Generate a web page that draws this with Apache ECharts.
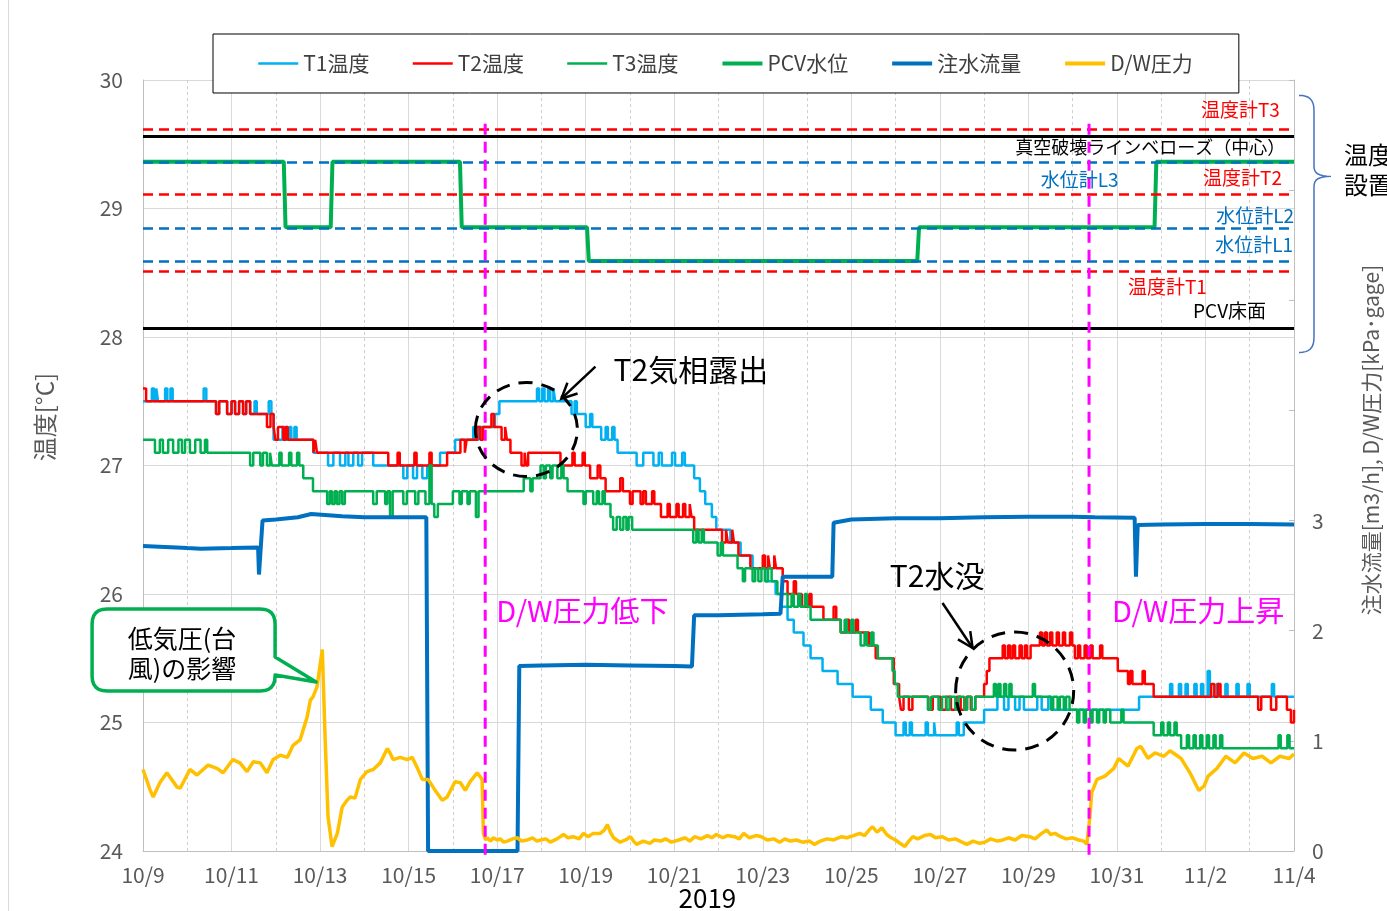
<!DOCTYPE html>
<html>
<head>
<meta charset="utf-8">
<title>PCV temperature</title>
<script src="https://cdn.jsdelivr.net/npm/echarts@6/dist/echarts.min.js"></script>
<style>
html,body{margin:0;padding:0;background:#ffffff;}
#chart{width:1387px;height:911px;}
</style>
</head>
<body>
<div id="chart"></div>
<script>
// ===== data (day offset from 10/9 0:00, value) =====
const xTickLabels = ['10/9','10/11','10/13','10/15','10/17','10/19','10/21','10/23','10/25','10/27','10/29','10/31','11/2','11/4'];

const t1Temp = [[0,27.5],[0.2,27.6],[0.25,27.5],[0.3,27.6],[0.34,27.5],[0.5,27.6],[0.55,27.5],[0.62,27.6],[0.67,27.5],[1.37,27.6],[1.43,27.5],
[1.65,27.4],[1.72,27.5],[1.9,27.4],[2.0,27.5],[2.08,27.4],[2.17,27.5],[2.26,27.4],[2.33,27.5],
[2.42,27.4],[2.52,27.5],[2.57,27.4],[2.84,27.5],[2.9,27.4],
[2.95,27.2],[3.15,27.3],[3.2,27.2],[3.3,27.3],[3.35,27.2],[3.42,27.3],[3.47,27.2],
[3.85,27.1],[4.18,27.0],[4.3,27.1],[4.45,27.0],[4.57,27.1],[4.64,27.0],[4.75,27.1],[4.86,27.0],[4.95,27.1],
[5.2,27.0],[5.88,26.9],[5.97,27.0],[6.1,26.9],[6.19,27.0],[6.31,26.9],[6.42,27.0],
[6.71,27.1],[7.05,27.2],[7.46,27.3],[7.52,27.2],[7.58,27.3],
[7.95,27.4],[8.05,27.5],
[8.9,27.6],[8.95,27.5],[9.02,27.6],[9.07,27.5],[9.15,27.6],[9.2,27.5],[9.27,27.6],[9.31,27.5],
[9.68,27.4],[9.75,27.5],[9.8,27.4],
[10.0,27.3],[10.1,27.4],[10.15,27.3],
[10.35,27.2],[10.45,27.3],[10.5,27.2],[10.6,27.3],[10.65,27.2],
[10.72,27.1],[11.15,27.0],[11.3,27.1],
[11.53,27.0],[11.65,27.1],[11.72,27.0],[11.95,27.1],[12.02,27.0],[12.18,27.1],[12.24,27.0],
[12.45,26.9],[12.58,26.8],[12.7,26.7],[12.85,26.6],[12.95,26.5],
[13.27,26.4],[13.5,26.3],[13.77,26.2],[14.06,26.1],[14.29,26.0],
[14.42,25.9],[14.56,25.8],[14.7,25.7],[14.92,25.6],[15.08,25.5],[15.35,25.4],[15.69,25.3],[16.03,25.2],[16.44,25.1],[16.71,25.0],
[17.0,24.9],[17.18,25.0],[17.23,24.9],[17.32,25.0],[17.37,24.9],[17.68,25.0],[17.73,24.9],[17.87,25.0],[17.9,24.9],[18.38,25.0],[18.43,24.9],
[18.54,25.0],[19.0,25.1],[19.3,25.2],[19.45,25.1],[19.55,25.2],[19.7,25.1],[19.8,25.2],[19.9,25.1],[20.2,25.2],[20.3,25.1],[20.45,25.2],[20.52,25.1],
[22.5,25.2],[23.2,25.3],[23.25,25.2],[23.4,25.3],[23.45,25.2],[23.55,25.3],[23.6,25.2],[23.75,25.3],[23.8,25.2],[23.9,25.3],[23.95,25.2],[24.05,25.4],[24.1,25.2],[24.25,25.3],[24.3,25.2],[24.45,25.3],[24.5,25.2],[24.7,25.3],[24.75,25.2],[24.95,25.3],[25.0,25.2],[25.5,25.3],[25.55,25.2],[26.0,25.2]];

const t2Temp = [[0,27.6],[0.07,27.5],
[1.65,27.4],[1.72,27.5],[1.9,27.4],[2.0,27.5],[2.08,27.4],[2.17,27.5],[2.26,27.4],[2.33,27.5],
[2.42,27.4],[2.8,27.3],[2.88,27.4],
[2.95,27.3],[2.99,27.2],[3.05,27.3],[3.17,27.2],[3.22,27.3],[3.27,27.2],
[3.85,27.1],[3.89,27.2],[3.93,27.1],
[5.54,27.0],[5.75,27.1],[5.8,27.0],[6.13,27.1],[6.18,27.0],[6.47,27.1],[6.52,27.0],[6.87,27.1],
[7.17,27.2],[7.27,27.1],[7.31,27.2],
[7.55,27.3],[7.62,27.2],[7.68,27.3],
[7.87,27.4],[7.93,27.3],
[8.1,27.2],[8.18,27.3],[8.22,27.2],
[8.3,27.1],[8.55,27.0],[8.62,27.1],[8.65,27.0],[8.7,27.1],
[9.43,27.0],[9.7,27.1],[9.75,27.0],[9.93,27.1],[9.98,27.0],
[10.1,26.9],[10.27,27.0],[10.33,26.9],
[10.45,26.8],[10.78,26.9],[10.84,26.8],[11.0,26.7],[11.06,26.8],[11.24,26.7],[11.3,26.8],[11.36,26.7],
[11.5,26.8],[11.55,26.7],
[11.7,26.6],[11.85,26.7],[11.9,26.6],[12.05,26.7],[12.1,26.6],[12.2,26.7],[12.25,26.6],[12.35,26.7],[12.39,26.6],
[12.45,26.5],
[13.08,26.4],[13.17,26.5],[13.21,26.4],[13.31,26.5],[13.35,26.4],
[13.45,26.3],
[13.72,26.2],[14.0,26.3],[14.05,26.2],[14.12,26.3],[14.16,26.2],[14.26,26.3],[14.3,26.2],
[14.45,26.1],
[14.56,26.0],[14.7,26.1],[14.75,26.0],
[14.88,25.9],[15.05,26.0],[15.1,25.9],
[15.37,25.8],[15.6,25.9],[15.66,25.8],
[15.76,25.7],[15.9,25.8],[15.95,25.7],[16.1,25.8],[16.15,25.7],
[16.4,25.6],[16.55,25.5],
[16.96,25.3],[17.08,25.2],[17.12,25.1],[17.18,25.2],[17.3,25.1],[17.38,25.2],
[17.74,25.1],[17.84,25.2],[18.02,25.1],[18.14,25.2],[18.25,25.1],[18.38,25.2],[18.47,25.1],[18.6,25.2],[18.7,25.1],[18.8,25.2],
[19.0,25.3],[19.06,25.4],[19.12,25.5],
[19.42,25.6],[19.47,25.5],[19.54,25.6],[19.59,25.5],[19.65,25.6],[19.7,25.5],[19.8,25.6],[19.85,25.5],[19.92,25.6],[19.97,25.5],
[20.05,25.6],[20.26,25.7],[20.31,25.6],[20.37,25.7],[20.42,25.6],[20.49,25.7],[20.54,25.6],[20.64,25.7],[20.69,25.6],[20.78,25.7],[20.83,25.6],[20.94,25.7],[20.99,25.6],
[21.05,25.5],[21.12,25.6],[21.17,25.5],[21.27,25.6],[21.32,25.5],[21.4,25.6],[21.45,25.5],[21.62,25.6],[21.67,25.5],
[22.02,25.4],[22.25,25.3],[22.3,25.4],[22.35,25.3],[22.58,25.4],[22.63,25.3],
[22.83,25.2],[24.13,25.3],[24.2,25.2],[24.28,25.3],[24.34,25.2],
[25.19,25.1],[25.26,25.2],[25.48,25.1],[25.6,25.2],[25.84,25.1],[25.93,25.0],[26.0,25.1]];

const t3Temp = [[0,27.2],[0.27,27.1],[0.38,27.2],[0.45,27.1],[0.57,27.2],[0.68,27.1],[0.8,27.2],[0.88,27.1],[0.95,27.2],[1.06,27.1],[1.18,27.2],[1.3,27.1],[1.4,27.2],[1.45,27.1],
[2.42,27.0],[2.49,27.1],[2.65,27.0],[2.71,27.1],[2.8,27.0],[2.87,27.1],[2.91,27.0],
[3.08,27.1],[3.13,27.0],[3.3,27.1],[3.35,27.0],[3.48,27.1],[3.53,27.0],
[3.62,26.9],[3.84,26.8],
[4.16,26.7],[4.22,26.8],[4.27,26.7],[4.33,26.8],[4.38,26.7],[4.44,26.8],[4.5,26.7],[4.56,26.8],
[5.2,26.7],[5.28,26.8],[5.47,26.7],[5.52,26.8],[5.58,26.6],[5.64,26.8],[5.88,26.7],[5.96,26.8],[6.15,26.7],[6.22,26.8],
[6.38,26.7],[6.47,27.0],[6.52,26.7],[6.58,26.6],[6.66,26.7],
[7.0,26.8],[7.15,26.7],[7.2,26.8],[7.33,26.7],[7.38,26.8],[7.52,26.6],[7.58,26.8],
[7.69,26.8],
[8.6,26.9],[8.75,26.8],[8.8,26.9],
[8.98,27.0],[9.05,26.9],[9.1,27.0],[9.2,26.9],[9.25,27.0],[9.36,26.9],[9.45,27.0],[9.5,26.9],
[9.59,26.8],[9.95,26.7],[10.0,26.8],
[10.17,26.7],[10.25,26.8],[10.3,26.7],[10.38,26.8],[10.43,26.7],
[10.56,26.6],[10.62,26.5],[10.7,26.6],[10.78,26.5],[10.85,26.6],[10.92,26.5],[10.97,26.6],[11.05,26.5],
[12.43,26.4],[12.5,26.5],[12.55,26.4],[12.62,26.5],[12.67,26.4],
[12.98,26.3],[13.05,26.4],[13.1,26.3],
[13.43,26.2],[13.55,26.1],[13.6,26.2],[13.77,26.1],[13.83,26.2],[13.9,26.1],[13.97,26.2],[14.05,26.1],[14.12,26.2],[14.2,26.1],
[14.33,26.0],[14.56,25.9],[14.65,26.0],[14.7,25.9],[14.8,26.0],[14.85,25.9],[14.95,26.0],[15.0,25.9],
[15.08,25.8],[15.76,25.7],[15.85,25.8],[15.9,25.7],[16.0,25.8],[16.05,25.7],
[16.21,25.6],[16.3,25.7],[16.35,25.6],[16.45,25.7],[16.5,25.6],
[16.6,25.5],[16.93,25.4],[16.98,25.3],[17.05,25.2],
[17.73,25.1],[17.8,25.2],[17.97,25.1],[18.05,25.2],[18.15,25.1],[18.22,25.2],[18.35,25.1],[18.42,25.2],[18.55,25.1],[18.62,25.2],[18.72,25.1],[18.8,25.2],
[19.22,25.3],[19.27,25.2],[19.32,25.3],[19.37,25.2],[19.45,25.3],[19.5,25.2],[19.57,25.3],[19.62,25.2],
[20.1,25.3],[20.15,25.2],
[20.51,25.1],[20.56,25.2],[20.66,25.1],[20.71,25.2],[20.8,25.1],[20.85,25.2],[20.93,25.1],
[21.1,25.0],[21.15,25.1],[21.25,25.0],[21.3,25.1],[21.4,25.0],[21.45,25.1],[21.55,25.0],[21.6,25.1],[21.7,25.0],[21.75,25.1],
[21.85,25.0],[22.1,25.1],[22.15,25.0],
[22.83,24.9],[23.0,25.0],[23.05,24.9],[23.15,25.0],[23.2,24.9],[23.3,25.0],[23.35,24.9],
[23.45,24.8],[23.58,24.9],[23.63,24.8],[23.73,24.9],[23.78,24.8],[23.88,24.9],[23.93,24.8],[24.03,24.9],[24.08,24.8],[24.18,24.9],[24.23,24.8],[24.33,24.9],[24.38,24.8],
[25.65,24.9],[25.7,24.8],[25.85,24.9],[25.9,24.8],[26.0,24.8]];

const pcvLevel = [[0,29.364],[3.18,29.364],[3.22,28.854],[4.24,28.854],[4.28,29.364],[7.16,29.364],[7.2,28.854],[10.03,28.854],[10.07,28.591],[17.49,28.591],[17.53,28.854],[22.85,28.854],[22.89,29.364],[26,29.364]];

const injectionFlow = [[0,2.77],[0.5,2.76],[1.0,2.75],[1.3,2.745],[2.0,2.75],[2.6,2.755],[2.62,2.51],[2.66,2.52],[2.7,3.0],[3.0,3.01],[3.5,3.03],[3.8,3.06],[4.5,3.04],[5.0,3.03],[5.5,3.03],[6.0,3.03],[6.4,3.03],[6.44,0.0],[8.46,0.0],[8.5,1.68],[9.0,1.685],[10.0,1.69],[11.0,1.685],[12.0,1.68],[12.4,1.675],[12.45,2.14],[13.0,2.14],[14.0,2.15],[14.4,2.155],[14.45,2.49],[15.0,2.49],[15.57,2.49],[15.6,2.98],[16.0,3.01],[17.0,3.02],[18.0,3.02],[19.0,3.03],[20.0,3.035],[21.0,3.035],[21.5,3.03],[22.4,3.025],[22.43,2.49],[22.47,2.96],[23.0,2.965],[24.0,2.97],[25.0,2.97],[26.0,2.965]];

const dwPressure = [[0,0.74],[0.16,0.555],[0.23,0.49],[0.38,0.62],[0.54,0.71],[0.77,0.58],[0.84,0.57],[1.06,0.74],[1.22,0.69],[1.47,0.78],[1.67,0.75],[1.81,0.71],[2.03,0.83],[2.19,0.8],[2.35,0.72],[2.49,0.81],[2.65,0.8],[2.8,0.71],[2.94,0.83],[3.1,0.87],[3.26,0.85],[3.39,0.96],[3.55,1.01],[3.71,1.22],[3.78,1.37],[3.84,1.4],[3.93,1.49],[4.05,1.83],[4.11,1.07],[4.18,0.31],[4.27,0.04],[4.39,0.16],[4.5,0.4],[4.61,0.46],[4.68,0.49],[4.79,0.48],[4.91,0.65],[5.06,0.72],[5.2,0.74],[5.36,0.8],[5.52,0.93],[5.58,0.89],[5.65,0.83],[5.81,0.85],[5.97,0.83],[6.08,0.85],[6.19,0.76],[6.31,0.65],[6.44,0.65],[6.6,0.55],[6.76,0.46],[6.87,0.49],[7.05,0.63],[7.17,0.62],[7.28,0.55],[7.39,0.63],[7.55,0.71],[7.66,0.65],
[7.69,0.16],[7.74,0.1],[7.78,0.12],[7.85,0.09],[7.91,0.12],[8.0,0.1],[8.07,0.11],[8.15,0.08],[8.23,0.09],[8.35,0.11],[8.46,0.12],[8.55,0.09],[8.68,0.1],[8.8,0.12],[8.9,0.09],[8.98,0.1],[9.1,0.11],[9.2,0.08],[9.35,0.11],[9.5,0.15],[9.6,0.12],[9.72,0.13],[9.85,0.11],[9.95,0.16],[10.05,0.13],[10.17,0.16],[10.33,0.16],[10.42,0.19],[10.49,0.24],[10.56,0.17],[10.63,0.12],[10.7,0.1],[10.78,0.08],[10.9,0.1],[11.01,0.13],[11.08,0.09],[11.15,0.06],[11.3,0.09],[11.45,0.07],[11.55,0.1],[11.7,0.09],[11.8,0.11],[11.94,0.08],[12.1,0.1],[12.25,0.12],[12.35,0.09],[12.46,0.13],[12.6,0.11],[12.75,0.14],[12.85,0.12],[12.95,0.15],[13.1,0.12],[13.2,0.14],[13.36,0.13],[13.47,0.11],[13.57,0.16],[13.7,0.12],[13.85,0.14],[13.97,0.13],[14.1,0.1],[14.25,0.11],[14.38,0.08],[14.5,0.11],[14.62,0.09],[14.76,0.1],[14.9,0.08],[15.05,0.09],[15.17,0.06],[15.3,0.09],[15.45,0.11],[15.6,0.1],[15.78,0.13],[15.9,0.12],[16.05,0.14],[16.19,0.16],[16.3,0.14],[16.4,0.19],[16.48,0.22],[16.58,0.17],[16.69,0.21],[16.8,0.15],[16.9,0.12],[17.0,0.1],[17.1,0.07],[17.21,0.04],[17.3,0.09],[17.39,0.13],[17.5,0.11],[17.65,0.14],[17.79,0.15],[17.9,0.12],[18.05,0.13],[18.2,0.1],[18.35,0.11],[18.5,0.08],[18.61,0.06],[18.75,0.09],[18.9,0.07],[19.01,0.08],[19.15,0.11],[19.3,0.09],[19.42,0.1],[19.55,0.12],[19.7,0.1],[19.85,0.14],[20.03,0.13],[20.15,0.11],[20.3,0.16],[20.42,0.19],[20.5,0.15],[20.6,0.16],[20.73,0.13],[20.85,0.11],[21.0,0.12],[21.14,0.1],[21.25,0.09],[21.32,0.06],
[21.39,0.31],[21.43,0.53],[21.55,0.65],[21.73,0.68],[21.93,0.75],[22.04,0.84],[22.25,0.77],[22.45,0.93],[22.54,0.95],[22.7,0.84],[22.86,0.89],[23.06,0.86],[23.2,0.91],[23.45,0.84],[23.65,0.71],[23.85,0.55],[23.97,0.59],[24.06,0.68],[24.26,0.75],[24.46,0.86],[24.67,0.8],[24.87,0.89],[25.07,0.84],[25.28,0.86],[25.48,0.8],[25.68,0.86],[25.89,0.84],[26.0,0.88]];

const gaugeNames = ['温度計T3','真空破壊ラインベローズ（中心）','水位計L3','温度計T2','水位計L2','水位計L1','温度計T1','PCV床面'];
const gaugeValues = [29.619, 29.559, 29.364, 29.105, 28.854, 28.591, 28.508, 28.065];
const gaugeKinds = ['temp','solid','level','temp','level','level','temp','solid'];
const eventDays = [7.73, 21.37];
const eventNames = ['D/W圧力低下','D/W圧力上昇'];

// ===== presentation =====
const FONT = "'Noto Sans CJK JP','Noto Sans',sans-serif";
const gaugeStyle = {
  temp: {color:'#FF0000', type:[10,6], width:2.5},
  level:{color:'#0070C0', type:[10,6], width:2.5},
  solid:{color:'#000000', type:'solid', width:3}
};
const gaugeLabelColor = {temp:'#FF0000', level:'#0070C0', solid:'#000000'};
// label anchors in data coordinates [day, temp, align, fontSize]
const gaugeLabelAnchors = [[25.68,29.767,'right',19],[25.8,29.479,'right',18],[20.28,29.222,'left',19],[25.73,29.237,'right',19],[26.0,28.942,'right',19],[25.98,28.716,'right',19],[22.25,28.389,'left',19],[23.72,28.202,'left',19]];

function mkLine(name, data, color, width, yIdx, step, z){
  return {name:name, type:'line', data:data, yAxisIndex:yIdx, step:step, symbol:'none', showSymbol:false,
    lineStyle:{color:color, width:width}, itemStyle:{color:color}, emphasis:{disabled:true}, silent:true, z:z};
}

const chart = echarts.init(document.getElementById('chart'), null, {renderer:'canvas'});
const series = [
  {name:'gauges', type:'line', data:[], silent:true, z:1,
   markLine:{silent:true, symbol:['none','none'], label:{show:false}, animation:false,
     data: gaugeValues.map(function(v,i){ return {yAxis:v, lineStyle:gaugeStyle[gaugeKinds[i]]}; })}},
  mkLine('T1温度', t1Temp, '#00B0F0', 2.5, 0, 'end', 3),
  mkLine('T2温度', t2Temp, '#FF0000', 2.5, 0, 'end', 3),
  mkLine('T3温度', t3Temp, '#00B050', 2.5, 0, 'end', 3),
  mkLine('PCV水位', pcvLevel, '#00B050', 4, 0, false, 3),
  mkLine('注水流量', injectionFlow, '#0070C0', 4, 1, false, 4),
  mkLine('D/W圧力', dwPressure, '#FFC000', 3.5, 1, false, 4)
];
eventDays.forEach(function(d, i){
  const s = mkLine('event'+i, [[d, 29.66],[d, 23.93]], '#FF00FF', 3, 0, false, 6);
  s.lineStyle.type = [11,7];
  s.clip = false;
  series.push(s);
});

const option = {
  animation:false,
  backgroundColor:'#ffffff',
  textStyle:{fontFamily:FONT},
  grid:{left:143, right:93, top:80, bottom:60, containLabel:false},
  legend:{
    left:213, top:34, padding:[19,46,19,44], itemGap:42, itemWidth:40, itemHeight:14,
    borderColor:'#000000', borderWidth:1, backgroundColor:'#ffffff', selectedMode:false,
    textStyle:{fontSize:21, color:'#404040', fontFamily:FONT},
    itemStyle:{opacity:0},
    data:[
      {name:'T1温度', lineStyle:{width:2.5}},
      {name:'T2温度', lineStyle:{width:2.5}},
      {name:'T3温度', lineStyle:{width:2.5}},
      {name:'PCV水位', lineStyle:{width:4}},
      {name:'注水流量', lineStyle:{width:4}},
      {name:'D/W圧力', lineStyle:{width:4}}
    ]
  },
  xAxis:{
    type:'value', min:0, max:26, interval:2,
    axisLine:{show:true, lineStyle:{color:'#BFBFBF'}},
    axisTick:{show:false},
    axisLabel:{fontSize:21, color:'#595959', margin:14, fontFamily:FONT,
      formatter:function(v){ return xTickLabels[Math.round(v/2)] || ''; }},
    splitLine:{show:true, lineStyle:{color:'#D9D9D9', width:1}},
    minorTick:{show:false, splitNumber:2},
    minorSplitLine:{show:true, lineStyle:{color:'#CFCFCF', width:1, type:[3,3]}}
  },
  yAxis:[
    {type:'value', min:24, max:30, interval:1, position:'left',
     axisLine:{show:true, lineStyle:{color:'#BFBFBF'}}, axisTick:{show:false},
     axisLabel:{fontSize:21, color:'#595959', margin:20, fontFamily:FONT},
     splitLine:{show:true, lineStyle:{color:'#D9D9D9', width:1}}},
    {type:'value', min:0, max:7, interval:1, position:'right',
     axisLine:{show:true, lineStyle:{color:'#BFBFBF'}},
     axisTick:{show:true, inside:true, length:5, lineStyle:{color:'#BFBFBF'}},
     axisLabel:{fontSize:21, color:'#595959', margin:18, fontFamily:FONT,
       formatter:function(v){ return v <= 3 ? String(v) : ''; }},
     splitLine:{show:false}}
  ],
  series:series
};
chart.setOption(option);

// ===== annotations anchored through the axes =====
function P(d, t){ return chart.convertToPixel({xAxisIndex:0, yAxisIndex:0}, [d, t]); }
const els = [];
function addText(p, s, size, color, align, extra){
  const e = {type:'text', x:p[0], y:p[1], z:50, silent:true,
    style:{text:s, fill:color, fontSize:size, fontFamily:FONT, align:align, verticalAlign:'middle', textAlign:align, textVerticalAlign:'middle', lineHeight:size*1.25}};
  if (extra) Object.assign(e, extra);
  els.push(e);
}
function addArrow(a, b){
  els.push({type:'polyline', z:50, silent:true, shape:{points:[a, b]}, style:{stroke:'#000', lineWidth:2.5, fill:null}});
  const ang = Math.atan2(b[1]-a[1], b[0]-a[0]);
  const L = 17, w = 0.45;
  const p1 = [b[0]-L*Math.cos(ang-w), b[1]-L*Math.sin(ang-w)];
  const p2 = [b[0]-L*Math.cos(ang+w), b[1]-L*Math.sin(ang+w)];
  els.push({type:'polyline', z:50, silent:true, shape:{points:[p1, b, p2]}, style:{stroke:'#000', lineWidth:2.5, fill:null}});
}
function addEllipse(c, rx, ry){
  els.push({type:'ellipse', z:50, silent:true, shape:{cx:c[0], cy:c[1], rx:rx, ry:ry}, style:{fill:null, stroke:'#000', lineWidth:3, lineDash:[14,9]}});
}
// sample a cubic bezier into points
function cubicPts(p0, p1, p2, p3, n){
  const out = [];
  for (let i = 0; i <= n; i++){
    const t = i/n, u = 1-t;
    out.push([u*u*u*p0[0]+3*u*u*t*p1[0]+3*u*t*t*p2[0]+t*t*t*p3[0], u*u*u*p0[1]+3*u*u*t*p1[1]+3*u*t*t*p2[1]+t*t*t*p3[1]]);
  }
  return out;
}
// sample a quadratic bezier (rounded corner) into points
function quadPts(p0, c, p1, n){
  const out = [];
  for (let i = 0; i <= n; i++){
    const t = i/n, u = 1-t;
    out.push([u*u*p0[0]+2*u*t*c[0]+t*t*p1[0], u*u*p0[1]+2*u*t*c[1]+t*t*p1[1]]);
  }
  return out;
}

// outer chart frame (left edge)
els.push({type:'line', z:0, silent:true, shape:{x1:8.5, y1:0, x2:8.5, y2:911}, style:{stroke:'#D9D9D9', lineWidth:1}});

// gauge labels
gaugeNames.forEach(function(n, i){
  const a = gaugeLabelAnchors[i];
  addText(P(a[0], a[1]), n, a[3], gaugeLabelColor[gaugeKinds[i]], a[2]);
});

// event labels
addText(P(7.98, 25.87), eventNames[0], 29, '#FF00FF', 'left');
addText(P(21.89, 25.87), eventNames[1], 29, '#FF00FF', 'left');

// T2 annotations
addText(P(10.63, 27.75), 'T2気相露出', 30, '#000', 'left');
addEllipse(P(8.66, 27.28), 51, 47);
addArrow(P(10.22, 27.77), P(9.45, 27.52));
addText(P(16.87, 26.14), 'T2水没', 30, '#000', 'left');
addEllipse(P(19.69, 25.245), 59, 59);
addArrow(P(18.06, 25.93), P(18.74, 25.58));

// typhoon callout (rounded box with pointer)
(function(){
  const t = P(3.91, 25.315), tx = t[0], ty = t[1];
  const L = tx-224, R = tx-41, T = ty-73, B = ty+9, r = 15;
  let pts = [[L+r, T], [R-r, T]];
  pts = pts.concat(quadPts([R-r, T], [R, T], [R, T+r], 6));
  pts.push([R, ty-25], [tx, ty], [R, ty-7]);
  pts = pts.concat(quadPts([R, B-r], [R, B], [R-r, B], 6));
  pts.push([L+r, B]);
  pts = pts.concat(quadPts([L+r, B], [L, B], [L, B-r], 6));
  pts.push([L, T+r]);
  pts = pts.concat(quadPts([L, T+r], [L, T], [L+r, T], 6));
  els.push({type:'polygon', z:48, silent:true, shape:{points:pts}, style:{fill:'#ffffff', stroke:'#00B050', lineWidth:3.5, lineJoin:'round'}});
  addText([tx-134, ty-44], '低気圧(台', 25, '#000', 'center');
  addText([tx-134, ty-14], '風)の影響', 25, '#000', 'center');
})();

// bracket on the right
(function(){
  const x0 = P(26, 29)[0] + 5;
  const yt = P(26, 29.88)[1], ym = P(26, 29.25)[1], yb = P(26, 27.88)[1];
  let pts = cubicPts([x0, yt], [x0+10, yt], [x0+15, yt+4], [x0+15, yt+15], 8);
  pts = pts.concat(cubicPts([x0+15, ym-10], [x0+15, ym-3], [x0+20, ym], [x0+32, ym], 8));
  pts = pts.concat(cubicPts([x0+32, ym], [x0+20, ym], [x0+15, ym+3], [x0+15, ym+10], 8));
  pts = pts.concat(cubicPts([x0+15, yb-15], [x0+15, yb-4], [x0+10, yb], [x0, yb], 8));
  els.push({type:'polyline', z:50, silent:true, shape:{points:pts}, style:{fill:null, stroke:'#4472C4', lineWidth:1.5}});
  addText([x0+45, P(26, 29.416)[1]], '温度', 24, '#000', 'left');
  addText([x0+45, P(26, 29.183)[1]], '設置', 24, '#000', 'left');
})();

// axis titles and year
addText(P(-2.21, 27.377), '温度[°C]', 24, '#595959', 'center', {rotation:Math.PI/2});
addText(P(27.74, 27.198), '注水流量[m3/h], D/W圧力[kPa･gage]', 21, '#595959', 'center', {rotation:Math.PI/2});
addText(P(12.75, 23.634), '2019', 26, '#000', 'center');

chart.setOption({graphic:{elements:els}});
</script>
</body>
</html>
